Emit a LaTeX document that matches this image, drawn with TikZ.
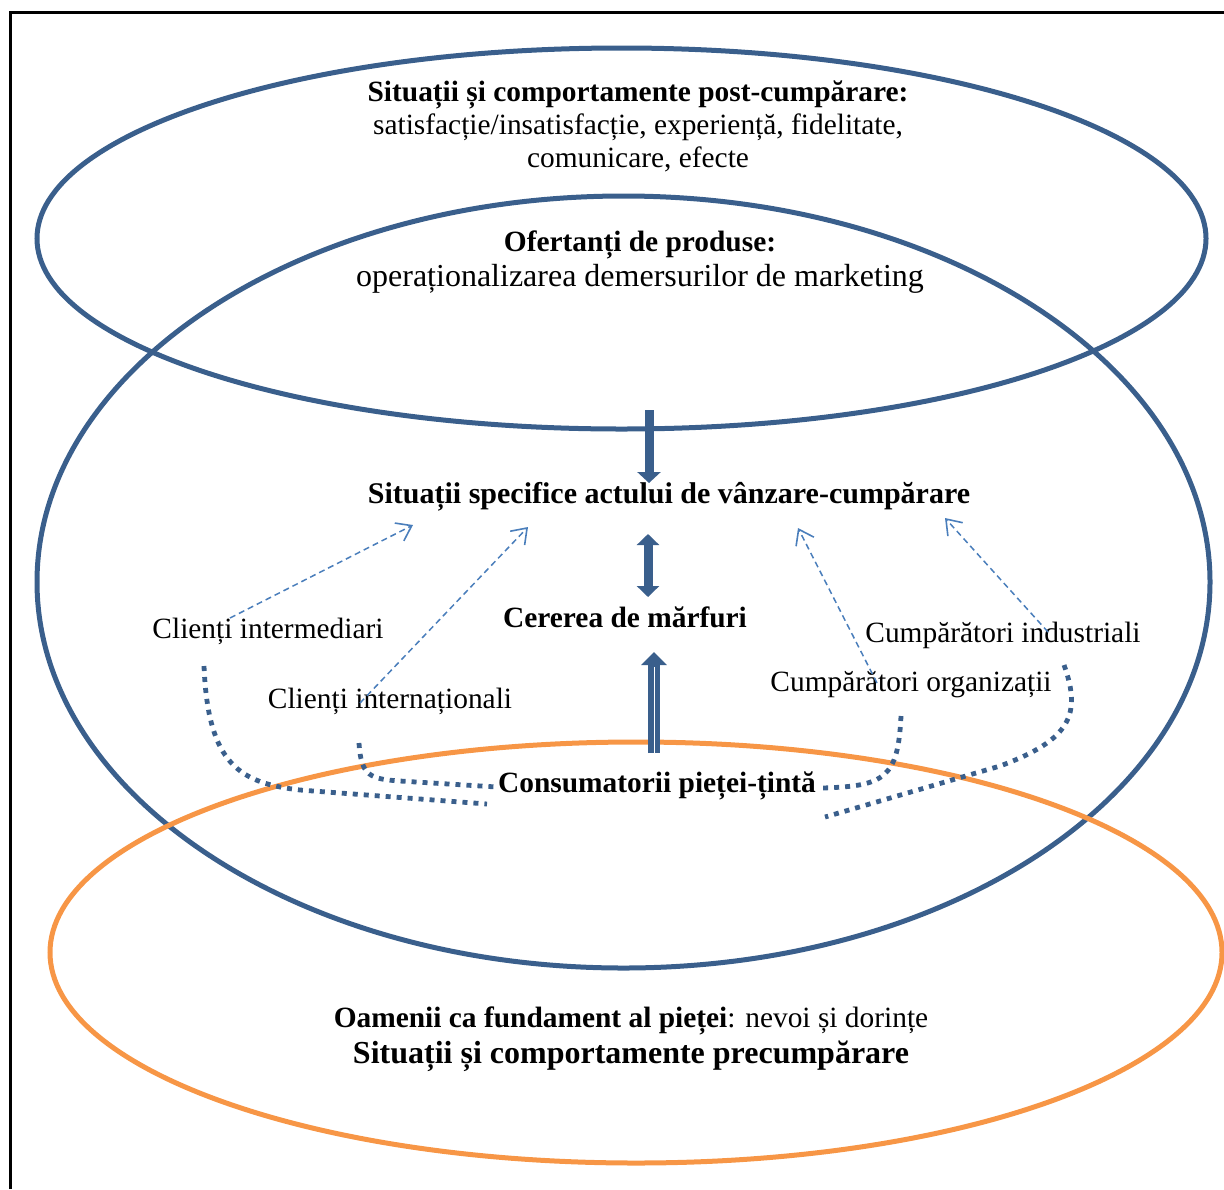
\documentclass[tikz,border=0pt]{standalone}
\usepackage{fontspec}
\setmainfont{Liberation Serif}
\usetikzlibrary{arrows.meta}
\definecolor{ellblue}{RGB}{58,95,140}
\definecolor{ellorange}{RGB}{247,150,70}
\definecolor{dashblue}{RGB}{74,126,187}
\begin{document}
\begin{tikzpicture}[x=0.5pt,y=-0.5pt,
  base/.style={font=\fontsize{14.7}{16.5}\selectfont, inner sep=0pt, align=center},
  ring/.style={line width=2.5pt},
  dotline/.style={ellblue, line width=2.4pt, dash pattern=on 2.5pt off 3pt},
  dasharrow/.style={dashblue, line width=0.75pt, dash pattern=on 3pt off 2pt, -{Straight Barb[length=7pt,width=10pt,line width=0.8pt]}},
  fatarrow/.style={ellblue, line width=4.5pt}
]
\useasboundingbox (0,0) rectangle (1224,1189);
% frame
\draw[line width=1.5pt] (10.5,1189) -- (10.5,12.5) -- (1224,12.5);
% ellipses
\draw[ring, ellblue] (621.5,238.5) ellipse [x radius=292.25pt, y radius=95.25pt];
\draw[ring, ellblue] (623.5,582) ellipse [x radius=293.25pt, y radius=193pt];
\draw[ring, ellorange] (636,952.5) ellipse [x radius=293pt, y radius=105.25pt];

% texts
\node[base] (post) at (638,126) {\textbf{Situații și comportamente post-cumpărare:}\\satisfacție/insatisfacție, experiență, fidelitate,\\comunicare, efecte};
\node[base] (ofert) at (640,262) {\textbf{Ofertanți de produse:}\\[1pt]{\fontsize{16}{18}\selectfont operaționalizarea demersurilor de marketing}};
\node[base, font=\fontsize{15}{17}\selectfont] (sit) at (669,497) {\textbf{Situații specifice actului de vânzare-cumpărare}};
\node[base] (cer) at (625,617) {\textbf{Cererea de mărfuri}};
\node[base] (cons) at (657,786) {\textbf{Consumatorii pieței-țintă}};
\node[base] (cint) at (268,631) {Clienți intermediari};
\node[base] (cinl) at (390,701) {Clienți internaționali};
\node[base] (cind) at (1003,635) {Cumpărători industriali};
\node[base] (corg) at (911,685) {Cumpărători organizații};
\node[base] (oam) at (631,1039) {\textbf{Oamenii ca fundament al pieței}: nevoi și dorințe\\[1.5pt]{\fontsize{16}{18}\selectfont\bfseries Situații și comportamente precumpărare}};

% thick arrows
\coordinate (a1s) at (649,410);
\coordinate (a1e) at (649,483);
\draw[fatarrow, -{Triangle[length=5.5pt,width=11.5pt]}] (a1s) -- (a1e);
\coordinate (a2s) at (648,534);
\coordinate (a2e) at (648,597);
\draw[fatarrow, {Triangle[length=5.5pt,width=11pt]}-{Triangle[length=5.5pt,width=11pt]}] (a2s) -- (a2e);
\coordinate (a3s) at (654,753);
\coordinate (a3e) at (654,652);
\draw[ellblue, line width=6pt, -{Triangle[length=6.5pt,width=12.5pt]}] (a3s) -- (a3e);
\draw[white, line width=0.4pt] (a3s) -- (654,667);

% dashed arrows
\coordinate (d1s) at (230,618); \coordinate (d1e) at (413,525);
\coordinate (d2s) at (360,703); \coordinate (d2e) at (528,527);
\coordinate (d3s) at (877,683); \coordinate (d3e) at (798,528);
\coordinate (d4s) at (1048,632); \coordinate (d4e) at (945,518);
\draw[dasharrow] (d1s) -- (d1e);
\draw[dasharrow] (d2s) -- (d2e);
\draw[dasharrow] (d3s) -- (d3e);
\draw[dasharrow] (d4s) -- (d4e);

% dotted curves
\coordinate (p1s) at (204,666); \coordinate (p1e) at (487,804);
\coordinate (p2s) at (359,743); \coordinate (p2e) at (497,787);
\coordinate (p3s) at (901,716); \coordinate (p3e) at (823,788);
\coordinate (p4s) at (1064,665); \coordinate (p4e) at (825,817);
\draw[dotline] (p1s) .. controls (208,765) and (240,783) .. (300,790) -- (p1e);
\draw[dotline] (p2s) .. controls (361,776) and (370,779) .. (400,781) -- (p2e);
\draw[dotline] (p3s) .. controls (898,778) and (885,786) .. (p3e);
\draw[dotline] (p4s) .. controls (1082,715) and (1070,740) .. (1000,766) -- (p4e);
\end{tikzpicture}
\end{document}
